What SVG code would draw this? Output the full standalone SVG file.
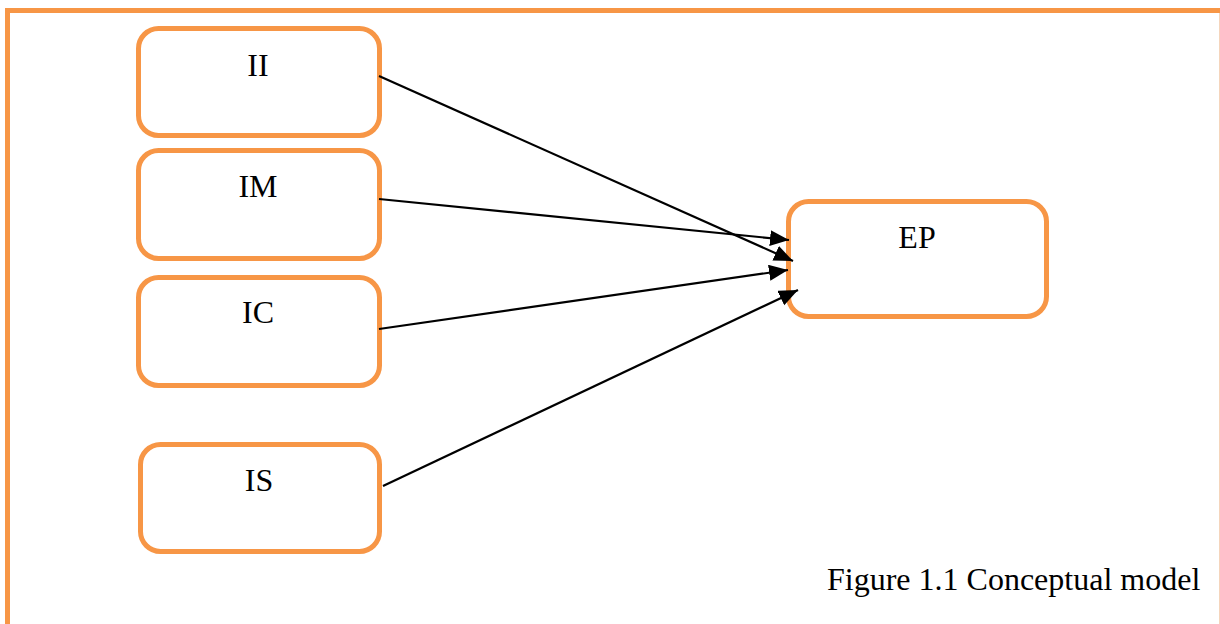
<svg xmlns="http://www.w3.org/2000/svg" width="1220" height="624" viewBox="0 0 1220 624">
  <style>
    .box { fill: #ffffff; stroke: #F79646; stroke-width: 5; }
    .lbl { font-family: "Liberation Serif", "Times New Roman", serif; font-size: 32px; fill: #000000; text-anchor: middle; }
    .cap { font-family: "Liberation Serif", "Times New Roman", serif; font-size: 32px; fill: #000000; }
    .edge { stroke: #000000; stroke-width: 2.2; fill: none; marker-end: url(#arrow); }
  </style>
  <defs>
    <marker id="arrow" markerUnits="userSpaceOnUse" markerWidth="22" markerHeight="18" refX="19" refY="8" orient="auto">
      <path d="M0,0 L19,8 L0,16 z" fill="#000000"/>
    </marker>
  </defs>
  <rect x="0" y="0" width="1220" height="624" fill="#ffffff"/>
  <g id="frame">
    <rect x="7.5" y="10.5" width="1260" height="700" fill="none" stroke="#F79646" stroke-width="5"/>
    <line x1="1219.5" y1="13" x2="1219.5" y2="624" stroke="#F5D5BC" stroke-width="1"/>
  </g>
  <g id="node-II">
    <rect class="box" x="138.5" y="28.5" width="241" height="107" rx="20" ry="20"/>
    <text class="lbl" x="258" y="76">II</text>
  </g>
  <g id="node-IM">
    <rect class="box" x="138.5" y="150.5" width="241" height="108" rx="20" ry="20"/>
    <text class="lbl" x="258" y="197">IM</text>
  </g>
  <g id="node-IC">
    <rect class="box" x="138.5" y="277.5" width="241" height="108" rx="20" ry="20"/>
    <text class="lbl" x="258" y="323">IC</text>
  </g>
  <g id="node-IS">
    <rect class="box" x="140.5" y="444.5" width="239" height="107" rx="20" ry="20"/>
    <text class="lbl" x="259" y="491">IS</text>
  </g>
  <g id="node-EP">
    <rect class="box" x="788.5" y="201.5" width="258" height="115" rx="20" ry="20"/>
    <text class="lbl" x="917" y="248">EP</text>
  </g>
  <g id="connectors">
    <line class="edge" x1="379" y1="76" x2="793" y2="261"/>
    <line class="edge" x1="379" y1="199" x2="789" y2="240"/>
    <line class="edge" x1="379" y1="329" x2="788" y2="270"/>
    <line class="edge" x1="383" y1="486" x2="798" y2="290"/>
  </g>
  <text class="cap" x="827" y="590">Figure 1.1 Conceptual model</text>
</svg>
